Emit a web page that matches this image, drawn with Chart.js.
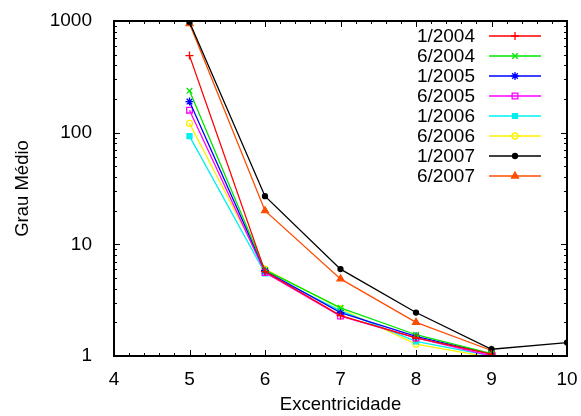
<!DOCTYPE html>
<html>
<head>
<meta charset="utf-8">
<script src="https://cdn.jsdelivr.net/npm/chart.js@4/dist/chart.umd.min.js"></script>
<style>
  html, body { margin: 0; padding: 0; background: #fff; }
  #wrap { width: 581px; height: 416px; }
</style>
</head>
<body>
<div id="wrap"><canvas id="chartGrau"></canvas></div>
<script>
// valores
const excentricidade = [5, 6, 7, 8, 9]
const excentricidade2007 = [5, 6, 7, 8, 9, 10]
const rotulos = ['1/2004', '6/2004', '1/2005', '6/2005', '1/2006', '6/2006', '1/2007', '6/2007']

const grau_1_2004 = [490, 5.7, 2.3, 1.45, 1.04]
const grau_6_2004 = [237, 5.9, 2.7, 1.55, 1.05]
const grau_1_2005 = [190, 5.8, 2.45, 1.5, 1.04]
const grau_6_2005 = [159, 5.6, 2.28, 1.45, 1.0]
const grau_1_2006 = [93, 5.5, 2.55, 1.35, 1.0]
const grau_6_2006 = [121, 6.0, 2.65, 1.28, 0.97]
const grau_1_2007 = [980, 27, 6.0, 2.45, 1.15, 1.32]
const grau_6_2007 = [950, 20, 4.9, 2.0, 1.12]

const yTicks = [1, 10, 100, 1000]
const xTicks = [4, 5, 6, 7, 8, 9, 10]

const FONTE = '"Liberation Sans", Arial, sans-serif'

function pontos(xs, ys) {
    return ys.map((v, i) => ({ x: xs[i], y: v }))
}

function serie(label, xs, ys, cor, estilo, preenchido) {
    return {
        label: label,
        data: pontos(xs, ys),
        borderColor: cor,
        backgroundColor: preenchido ? cor : '#ffffff',
        pointBorderColor: cor,
        pointBackgroundColor: preenchido ? cor : 'rgba(0,0,0,0)',
        pointStyle: estilo,
        pointRadius: estilo === 'circle' ? 3 : 4,
        pointBorderWidth: 1.3,
        borderWidth: 1.3,
        tension: 0
    }
}

const datasets = [
    serie(rotulos[0], excentricidade, grau_1_2004, 'rgb(255,0,0)', 'cross', false),
    serie(rotulos[1], excentricidade, grau_6_2004, 'rgb(0,230,0)', 'crossRot', false),
    serie(rotulos[2], excentricidade, grau_1_2005, 'rgb(0,0,255)', 'star', false),
    serie(rotulos[3], excentricidade, grau_6_2005, 'rgb(255,0,255)', 'rect', false),
    serie(rotulos[4], excentricidade, grau_1_2006, 'rgb(0,240,240)', 'rect', true),
    serie(rotulos[5], excentricidade, grau_6_2006, 'rgb(255,240,0)', 'circle', false),
    serie(rotulos[6], excentricidade2007, grau_1_2007, 'rgb(0,0,0)', 'circle', true),
    serie(rotulos[7], excentricidade, grau_6_2007, 'rgb(255,77,0)', 'triangle', true)
]
datasets[4].pointRadius = 3.5
datasets[6].pointRadius = 2.5

// moldura, marcas internas e legenda no estilo gnuplot
const moldura = {
    id: 'moldura',
    afterDatasetsDraw(chart) {
        const ctx = chart.ctx
        const a = chart.chartArea
        const xs = chart.scales.x
        const ys = chart.scales.y
        ctx.save()
        ctx.strokeStyle = '#000'
        ctx.lineWidth = 1
        ctx.beginPath()
        // x: maiores a cada 1, menores a cada 0.2
        for (let v = 4; v <= 10.001; v += 0.2) {
            const px = Math.round(xs.getPixelForValue(v)) + 0.5
            const maior = Math.abs(v - Math.round(v)) < 0.01
            const len = maior ? 6 : 3
            ctx.moveTo(px, a.bottom); ctx.lineTo(px, a.bottom - len)
            ctx.moveTo(px, a.top); ctx.lineTo(px, a.top + len)
        }
        // y log: maiores nas décadas, menores 2..9
        for (let d = 1; d < 1000; d *= 10) {
            for (let m = 1; m <= 10; m++) {
                const v = d * m
                const py = Math.round(ys.getPixelForValue(v)) + 0.5
                const maior = m === 1 || m === 10
                const len = maior ? 6 : 3
                ctx.moveTo(a.left, py); ctx.lineTo(a.left + len, py)
                ctx.moveTo(a.right, py); ctx.lineTo(a.right - len, py)
            }
        }
        ctx.stroke()
        ctx.lineWidth = 2
        ctx.strokeRect(a.left, a.top, a.right - a.left, a.bottom - a.top)

        // legenda
        ctx.font = '19px ' + FONTE
        ctx.textAlign = 'right'
        ctx.textBaseline = 'middle'
        chart.data.datasets.forEach((ds, i) => {
            const y = 36 + i * 20
            ctx.fillStyle = '#000'
            ctx.fillText(ds.label, 475, y + 1)
            ctx.strokeStyle = ds.borderColor
            ctx.lineWidth = 1.3
            ctx.beginPath()
            ctx.moveTo(489, y); ctx.lineTo(541, y)
            ctx.stroke()
            ctx.fillStyle = ds.pointBackgroundColor
            Chart.helpers.drawPoint(ctx, {
                pointStyle: ds.pointStyle,
                radius: ds.pointRadius,
                borderWidth: ds.pointBorderWidth
            }, 515, y)
        })
        ctx.restore()
    }
}

new Chart(document.getElementById('chartGrau'), {
    type: 'line',
    data: { datasets: datasets },
    options: {
        responsive: true,
        maintainAspectRatio: false,
        animation: false,
        layout: { padding: { left: 12, right: 14, top: 21, bottom: 0 } },
        plugins: {
            legend: { display: false },
            tooltip: { enabled: false }
        },
        scales: {
            x: {
                type: 'linear',
                min: 4,
                max: 10,
                afterBuildTicks: (s) => { s.ticks = xTicks.map(v => ({ value: v })) },
                afterFit: (s) => { s.height = 60; s.paddingLeft = 0; s.paddingRight = 0 },
                grid: { display: false },
                border: { display: false },
                ticks: {
                    color: '#000',
                    font: { family: FONTE, size: 19 },
                    padding: 4,
                    maxRotation: 0
                },
                title: {
                    display: true,
                    text: 'Excentricidade',
                    color: '#000',
                    font: { family: FONTE, size: 18.5 },
                    padding: { top: 0, bottom: 0 }
                }
            },
            y: {
                type: 'logarithmic',
                min: 1,
                max: 1000,
                afterBuildTicks: (s) => { s.ticks = yTicks.map(v => ({ value: v })) },
                afterFit: (s) => { s.width = 102; s.paddingTop = 0; s.paddingBottom = 0 },
                grid: { display: false },
                border: { display: false },
                ticks: {
                    color: '#000',
                    font: { family: FONTE, size: 19 },
                    padding: 14,
                    callback: (v) => String(v)
                },
                title: {
                    display: true,
                    text: 'Grau Médio',
                    color: '#000',
                    font: { family: FONTE, size: 18.5 },
                    padding: { top: 0, bottom: 0 }
                }
            }
        }
    },
    plugins: [moldura]
})
</script>
</body>
</html>
